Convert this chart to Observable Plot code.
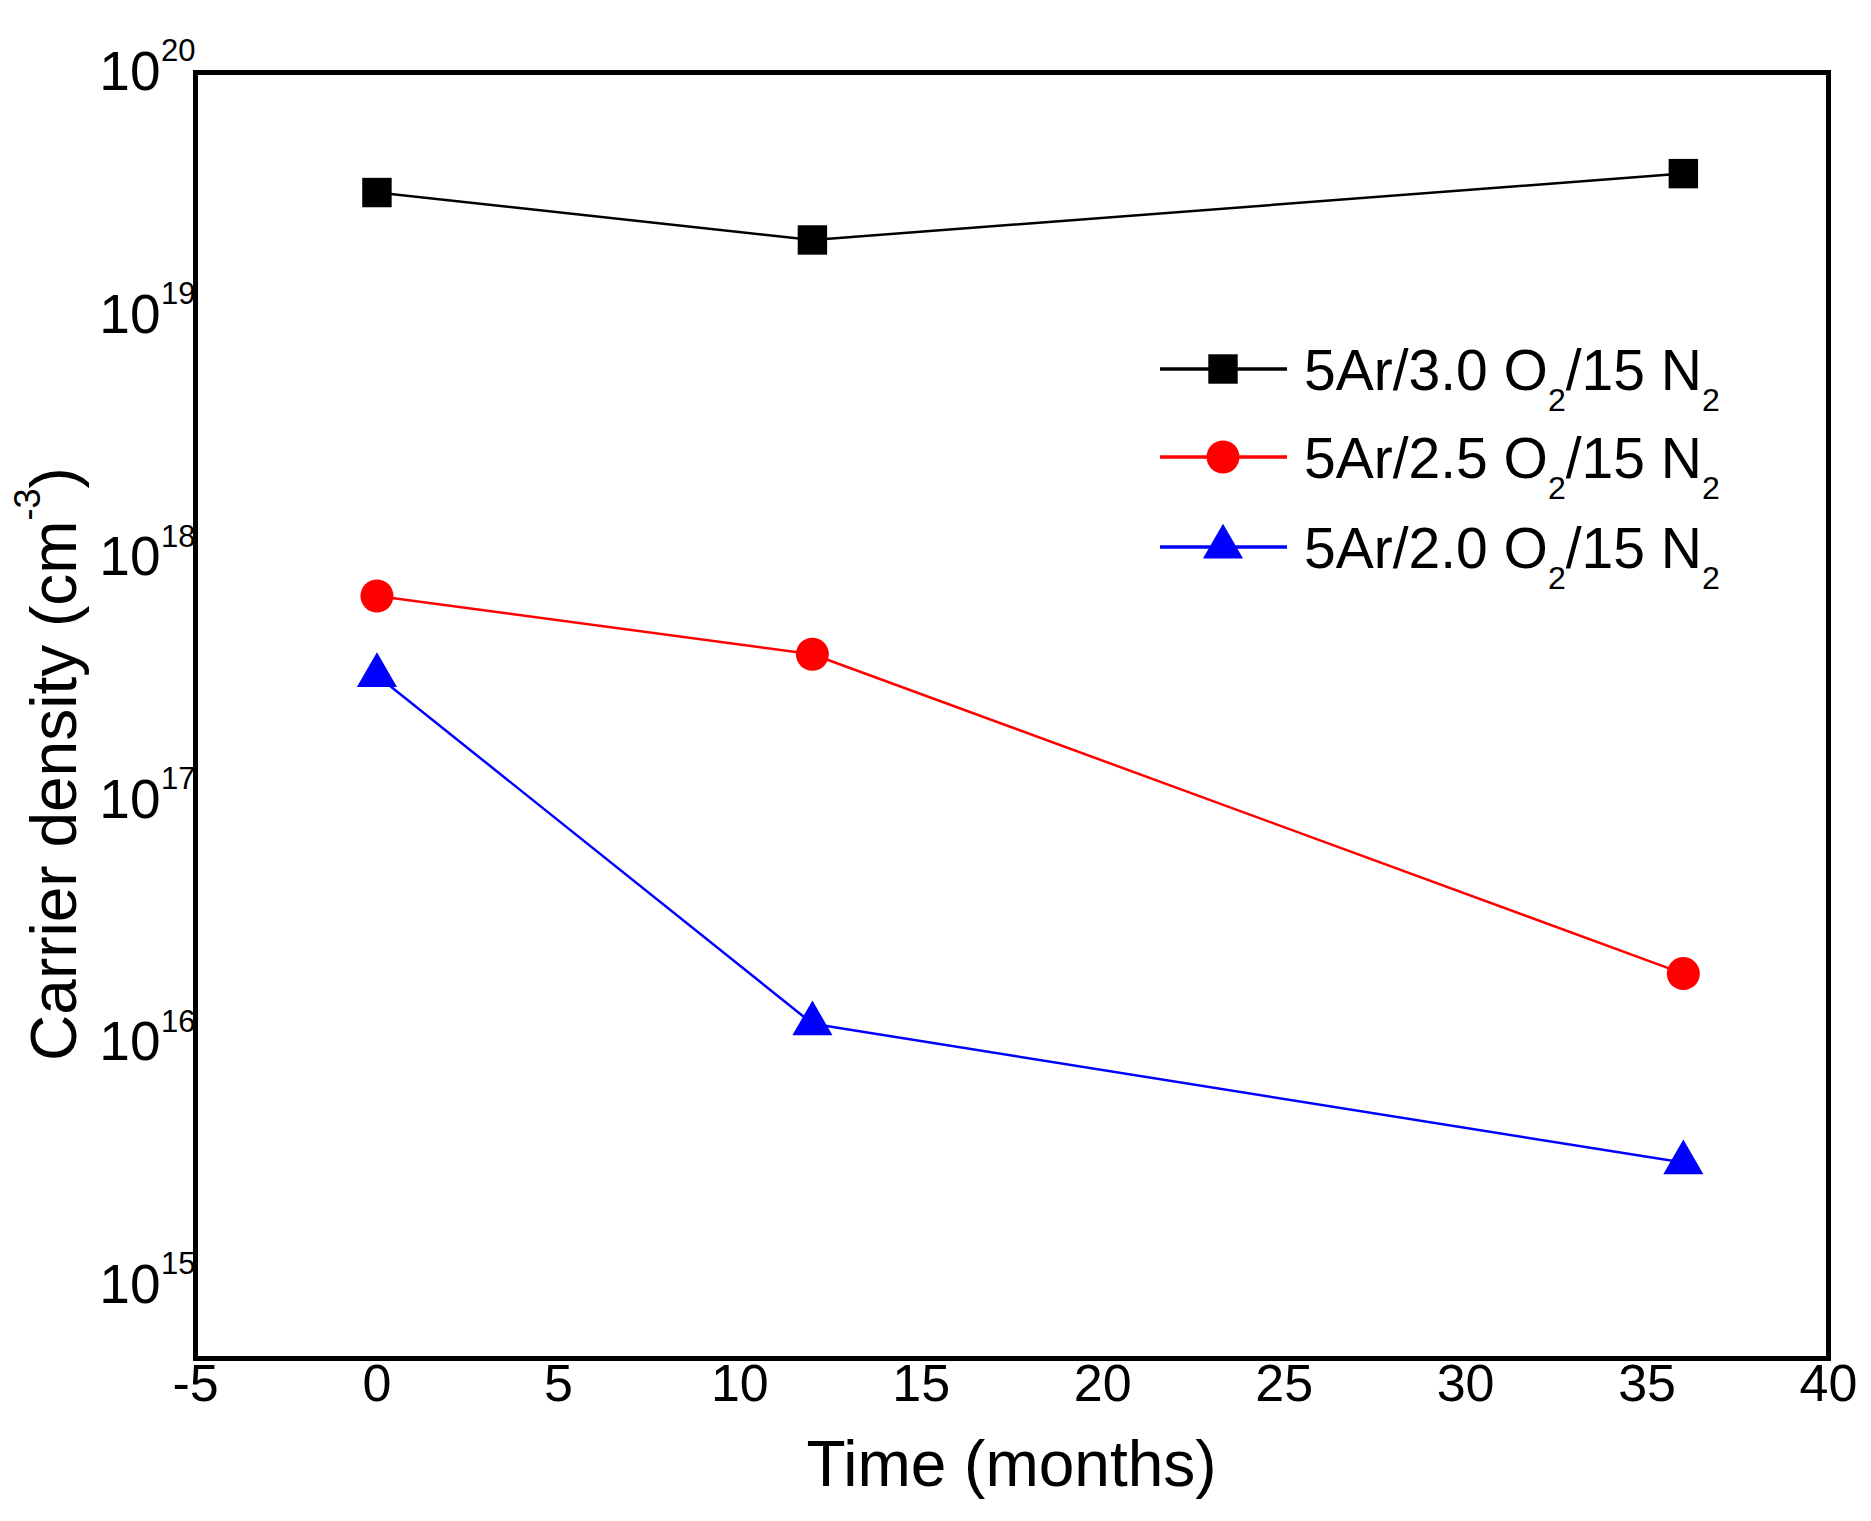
<!DOCTYPE html>
<html>
<head>
<meta charset="utf-8">
<script src="https://cdn.jsdelivr.net/npm/d3@7"></script>
<script src="https://cdn.jsdelivr.net/npm/@observablehq/plot@0.6"></script>
<style>
  html, body { margin: 0; padding: 0; background: #fff; }
  #chart svg { display: block; }
</style>
</head>
<body>
<div id="chart"></div>
<script>
// ---- data ----
const months = [0, 12, 36];
const seriesNames = ["5Ar/3.0 O2/15 N2", "5Ar/2.5 O2/15 N2", "5Ar/2.0 O2/15 N2"];
const seriesO2 = ["3.0", "2.5", "2.0"];
const ar30 = [3.2e19, 2.04e19, 3.83e19];
const ar25 = [6.95e17, 4.0e17, 1.93e16];
const ar20 = [3.27e17, 1.2e16, 3.21e15];
const seriesColors = ["#000000", "#ff0000", "#0000ff"];
const seriesSymbols = ["square", "circle", "triangle"];
const xTicks = [-5, 0, 5, 10, 15, 20, 25, 30, 35, 40];
const yTickExps = [15, 16, 17, 18, 19, 20];
const xTitle = "Time (months)";
const yTitle = "Carrier density (cm";

const allValues = [ar30, ar25, ar20];
const data = [];
allValues.forEach((vals, si) => {
  vals.forEach((v, i) => data.push({series: seriesNames[si], month: months[i], value: v}));
});
const yTicks = yTickExps.map(e => ({e, v: Math.pow(10, e)}));

const FONT = "'Liberation Sans', Arial, sans-serif";
const W = 1871, H = 1521;
const mL = 195, mR = 43, mT = 72, mB = 163;

// marker radii (Plot symbol size = PI r^2)
const radii = [16.6, 16.5, 14.9];

const marks = [];
seriesNames.forEach((name, si) => {
  const d = data.filter(p => p.series === name);
  marks.push(Plot.line(d, {x: "month", y: "value", stroke: seriesColors[si], strokeWidth: 2.5}));
});
seriesNames.forEach((name, si) => {
  const d = data.filter(p => p.series === name);
  marks.push(Plot.dot(d, {x: "month", y: "value", fill: seriesColors[si], stroke: "none",
    symbol: seriesSymbols[si], r: radii[si]}));
});

const chart = Plot.plot({
  width: W,
  height: H,
  marginLeft: mL,
  marginRight: mR,
  marginTop: mT,
  marginBottom: mB,
  style: {fontFamily: FONT, background: "#fff", color: "#000", overflow: "visible"},
  x: {domain: [-5, 40]},
  y: {type: "log", domain: [5e14, 1e20]},
  marks: [
    Plot.axisX({ticks: xTicks, tickSize: 0, tickPadding: 6, fontSize: 52, label: null,
      tickFormat: d => String(d)}),
    Plot.axisY({ticks: [], tickSize: 0, label: null}),
    ...marks,
    Plot.text(yTicks, {y: "v", frameAnchor: "left", text: () => "10", textAnchor: "end",
      dx: -35, fontSize: 55, fill: "#000"}),
    Plot.text(yTicks, {y: "v", frameAnchor: "left", text: d => String(d.e), textAnchor: "end",
      dx: 0, dy: -21, fontSize: 31, fill: "#000"}),
    Plot.frame({stroke: "#000", strokeWidth: 5})
  ]
});

document.getElementById("chart").appendChild(chart);

// ---- titles and legend (added to the Plot SVG) ----
const svg = d3.select(chart);

// x title
svg.append("text")
  .attr("x", (mL + (W - mR)) / 2)
  .attr("y", 1486)
  .attr("text-anchor", "middle")
  .attr("font-family", FONT)
  .attr("font-size", 64)
  .attr("fill", "#000")
  .text(xTitle);

// y title
const yt = svg.append("text")
  .attr("transform", `translate(76, 764) rotate(-90)`)
  .attr("text-anchor", "middle")
  .attr("font-family", FONT)
  .attr("font-size", 64)
  .attr("fill", "#000");
yt.append("tspan").text(yTitle);
yt.append("tspan").attr("font-size", 36).attr("dy", -36).text("-3");
yt.append("tspan").attr("dy", 36).text(")");

// legend
const legendRows = [369, 457, 547];
const lg = svg.append("g").attr("font-family", FONT).attr("fill", "#000")
  .attr("text-anchor", "start");
seriesNames.forEach((name, si) => {
  const cy = legendRows[si];
  lg.append("line")
    .attr("x1", 1160).attr("x2", 1287)
    .attr("y1", cy).attr("y2", cy)
    .attr("stroke", seriesColors[si]).attr("stroke-width", 3.5);
  const symType = si === 0 ? d3.symbolSquare : si === 1 ? d3.symbolCircle : d3.symbolTriangle;
  lg.append("path")
    .attr("d", d3.symbol(symType, Math.PI * radii[si] * radii[si])())
    .attr("transform", `translate(1223, ${cy})`)
    .attr("fill", seriesColors[si]);
  const t = lg.append("text")
    .attr("x", 1304).attr("y", cy + 20.5)
    .attr("text-anchor", "start")
    .attr("font-size", 57);
  t.append("tspan").text(`5Ar/${seriesO2[si]} O`);
  t.append("tspan").attr("font-size", 32).attr("dy", 21).text("2");
  t.append("tspan").attr("dy", -21).text("/15 N");
  t.append("tspan").attr("font-size", 32).attr("dy", 21).text("2");
});
</script>
</body>
</html>
